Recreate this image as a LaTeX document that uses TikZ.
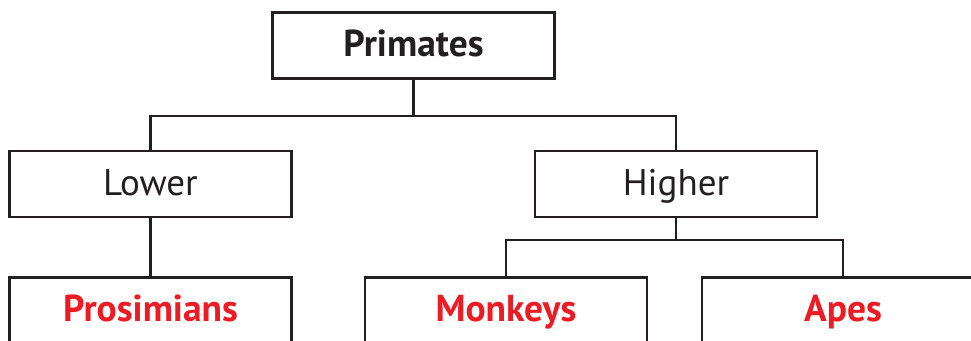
\documentclass[tikz,border=0pt]{standalone}
\usepackage{fontspec}
\setmainfont{PT Sans}
\definecolor{myred}{RGB}{237,28,36}
\definecolor{myblack}{RGB}{35,31,32}
\begin{document}
\begin{tikzpicture}[x=1pt,y=-1pt,
  box/.style={draw=myblack,line width=2.6pt,minimum width=282pt,minimum height=66pt,inner sep=0pt,text height=29.6pt,text depth=7.4pt,font=\fontsize{37}{42}\selectfont,text=myblack},
  boldbox/.style={box,font=\fontsize{37.5}{42}\selectfont\bfseries},
  redbox/.style={boldbox,text=myred},
  conn/.style={draw=myblack,line width=2.6pt}]
\useasboundingbox (0,0) rectangle (971,340);
\clip (0,0) rectangle (971,340);
\node[boldbox] (prim) at (413.5,45.5) {Primates};
\node[box] (lower) at (150.5,184) {Lower};
\node[box] (higher) at (676,184) {Higher};
\node[redbox] (pros) at (150.5,310.5) {Prosimians};
\node[redbox] (monk) at (506,310.5) {Monkeys};
\node[redbox] (apes) at (843,310.5) {Apes};
\coordinate (j1) at (413.5,116);
\coordinate (j2) at (676,240);
\draw[conn] (prim.south) -- (j1);
\draw[conn] (lower.north) |- (j1) -| (higher.north);
\draw[conn] (lower.south) -- (pros.north);
\draw[conn] (higher.south) -- (j2);
\draw[conn] (monk.north) |- (j2) -| (apes.north);
\end{tikzpicture}
\end{document}
